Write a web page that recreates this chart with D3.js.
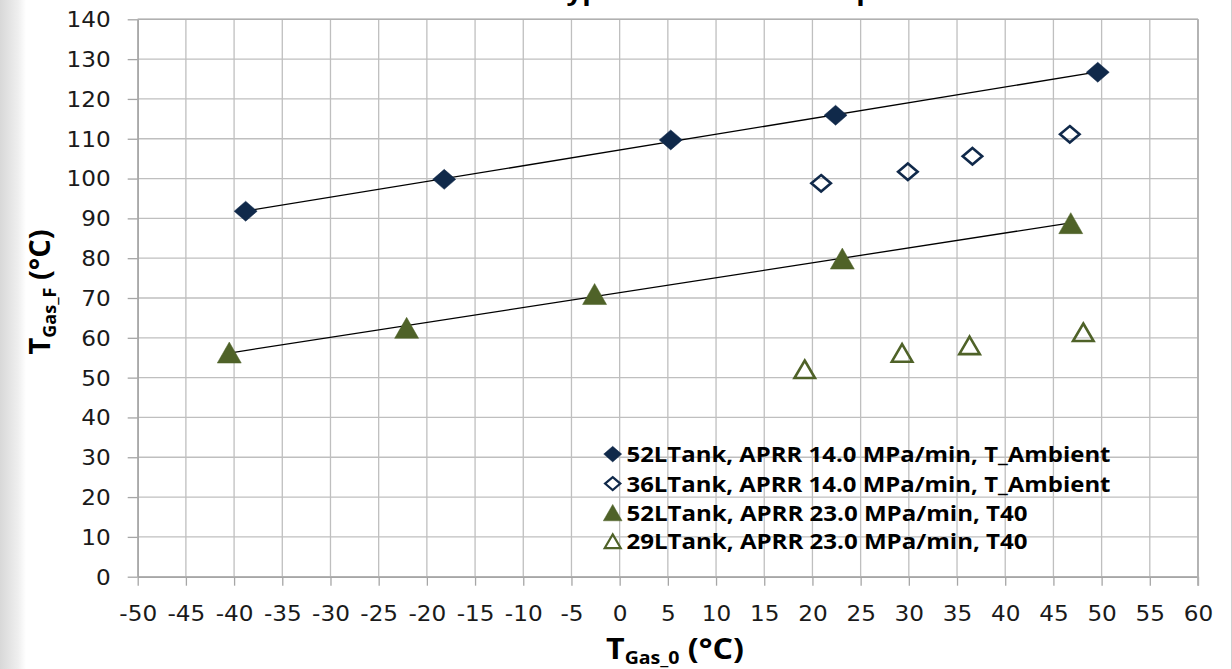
<!DOCTYPE html>
<html>
<head>
<meta charset="utf-8">
<script src="https://cdn.jsdelivr.net/npm/d3@7"></script>
<style>
  body { margin: 0; background: #fff; }
  svg { display: block; }
</style>
</head>
<body>
<div id="chart"></div>
<script>
// T_Gas_0 vs T_Gas_F for the four fill tests

const xTicks = [-50, -45, -40, -35, -30, -25, -20, -15, -10, -5, 0, 5, 10, 15, 20, 25, 30, 35, 40, 45, 50, 55, 60];
const yTicks = [0, 10, 20, 30, 40, 50, 60, 70, 80, 90, 100, 110, 120, 130, 140];

const seriesNames = [
    "52LTank, APRR 14.0 MPa/min, T_Ambient",
    "36LTank, APRR 14.0 MPa/min, T_Ambient",
    "52LTank, APRR 23.0 MPa/min, T40",
    "29LTank, APRR 23.0 MPa/min, T40"
];

// 52L, 14 MPa/min, ambient (filled diamond)
const amb52X = [-38.8, -18.2, 5.3, 22.4, 49.6];
const amb52Y = [91.8, 99.8, 109.7, 115.9, 126.7];
// 36L, 14 MPa/min, ambient (open diamond)
const amb36X = [20.9, 29.9, 36.6, 46.7];
const amb36Y = [98.8, 101.7, 105.6, 111.1];
// 52L, 23 MPa/min, T40 (filled triangle)
const t40_52X = [-40.5, -22.1, -2.6, 23.1, 46.8];
const t40_52Y = [56.3, 62.5, 71.0, 79.9, 88.8];
// 29L, 23 MPa/min, T40 (open triangle)
const t40_29X = [19.2, 29.3, 36.3, 48.1];
const t40_29Y = [52.1, 56.2, 58.1, 61.4];

const navy = "#10294a", olive = "#4f6228";

const width = 1232, height = 669;
const margin = ({ top: 19.3, right: 34, bottom: 92.3, left: 137.7 });

const svg = d3.select("#chart")
    .append("svg")
    .attr("width", width)
    .attr("height", height)
    .style("font-family", "'DejaVu Sans', Verdana, sans-serif");

// grey strip on the left edge, thin line on the right
const grad = svg.append("defs").append("linearGradient").attr("id", "edge");
grad.append("stop").attr("offset", "0%").attr("stop-color", "#d8d8d8");
grad.append("stop").attr("offset", "70%").attr("stop-color", "#efefef");
grad.append("stop").attr("offset", "100%").attr("stop-color", "#ffffff");
svg.append("rect").attr("x", 0).attr("y", 0).attr("width", 26).attr("height", height).attr("fill", "url(#edge)");
svg.append("line").attr("x1", width - 0.5).attr("x2", width - 0.5).attr("y1", 0).attr("y2", height)
    .attr("stroke", "#cfcfcf");

let x = d3.scaleLinear()
    .domain([-50, 60])
    .range([margin.left, width - margin.right]);

let y = d3.scaleLinear()
    .domain([0, 140])
    .range([height - margin.bottom, margin.top]);

// title, cut off at the top so only the descenders show
svg.append("text")
    .attr("transform", `translate(354,0) scale(1.15,1)`)
    .style("font-family", "'Open Sans', sans-serif")
    .style("font-weight", "bold")
    .style("font-size", "24px")
    .attr("fill", "#000")
    .text("Effect of Tank Type on Final Gas Temperature");

// gridlines
svg.append("g")
    .selectAll("line")
    .data(xTicks)
    .join("line")
    .attr("x1", d => x(d)).attr("x2", d => x(d))
    .attr("y1", y(140)).attr("y2", y(0))
    .attr("stroke", "#bfbfbf").attr("stroke-width", 1.3);

svg.append("g")
    .selectAll("line")
    .data(yTicks)
    .join("line")
    .attr("x1", x(-50)).attr("x2", x(60))
    .attr("y1", d => y(d)).attr("y2", d => y(d))
    .attr("stroke", "#bfbfbf").attr("stroke-width", 1.3);

// axes (plain hyphen for negatives, like the original)
let xAxis = svg.append("g")
    .attr("transform", `translate(0,${y(0)})`)
    .call(d3.axisBottom(x).tickValues(xTicks).tickFormat(d => String(d))
        .tickSizeInner(9).tickSizeOuter(0).tickPadding(0));

let yAxis = svg.append("g")
    .attr("transform", `translate(${x(-50)},0)`)
    .call(d3.axisLeft(y).tickValues(yTicks).tickFormat(d => String(d))
        .tickSizeInner(10).tickSizeOuter(0));

[xAxis, yAxis].forEach(a => {
    a.select(".domain").attr("stroke", "#a6a6a6").attr("stroke-width", 1.5);
    a.selectAll(".tick line").attr("stroke", "#a6a6a6").attr("stroke-width", 1.3);
    a.selectAll(".tick text")
        .attr("fill", "#1a1a1a")
        .style("font-family", "'DejaVu Sans', Verdana, sans-serif")
        .style("font-size", "20.5px");
});

xAxis.selectAll(".tick text")
    .attr("y", 44.5)
    .attr("dy", 0)
    .attr("transform", "scale(1.13,1)");

yAxis.selectAll(".tick text")
    .attr("x", -27 / 1.13)
    .attr("dy", "0.36em")
    .attr("transform", "scale(1.13,1)");

// plot border top and right
svg.append("line")
    .attr("x1", x(-50)).attr("x2", x(60)).attr("y1", y(140)).attr("y2", y(140))
    .attr("stroke", "#b0b0b0").attr("stroke-width", 1.5);
svg.append("line")
    .attr("x1", x(60)).attr("x2", x(60)).attr("y1", y(140)).attr("y2", y(0) + 9)
    .attr("stroke", "#b0b0b0").attr("stroke-width", 1.8);

// marker shapes
function diamond(w, h) {
    return `M0,${-h / 2}L${w / 2},0L0,${h / 2}L${-w / 2},0Z`;
}
function triangle(w, h) {
    return `M0,${-h / 2}L${w / 2},${h / 2}L${-w / 2},${h / 2}Z`;
}

const series = [
    { xs: amb52X, ys: amb52Y, shape: "diamond", filled: true, color: navy, trend: true },
    { xs: amb36X, ys: amb36Y, shape: "diamond", filled: false, color: navy, trend: false },
    { xs: t40_52X, ys: t40_52Y, shape: "triangle", filled: true, color: olive, trend: true },
    { xs: t40_29X, ys: t40_29Y, shape: "triangle", filled: false, color: olive, trend: false }
];

function markerPath(s, scale) {
    if (s.shape == "diamond") {
        return s.filled ? diamond(23 * scale, 20 * scale) : diamond(19.5 * scale, 16.5 * scale);
    }
    return s.filled ? triangle(24 * scale, 21 * scale) : triangle(20.5 * scale, 17.5 * scale);
}

// linear trend lines over the range of each filled series
for (let s of series.filter(s => s.trend)) {
    const n = s.xs.length;
    const mx = d3.mean(s.xs), my = d3.mean(s.ys);
    let sxy = 0, sxx = 0;
    for (let i = 0; i < n; i++) {
        sxy += (s.xs[i] - mx) * (s.ys[i] - my);
        sxx += (s.xs[i] - mx) * (s.xs[i] - mx);
    }
    const slope = sxy / sxx, icpt = my - slope * mx;
    const x0 = d3.min(s.xs), x1 = d3.max(s.xs);
    svg.append("line")
        .attr("x1", x(x0)).attr("y1", y(icpt + slope * x0))
        .attr("x2", x(x1)).attr("y2", y(icpt + slope * x1))
        .attr("stroke", "#000").attr("stroke-width", 1.3);
}

for (let s of series) {
    const pts = s.xs.map((v, i) => ({ x: v, y: s.ys[i] }));
    svg.append("g")
        .selectAll("path")
        .data(pts)
        .join("path")
        .attr("transform", d => `translate(${x(d.x)},${y(d.y)})`)
        .attr("d", markerPath(s, 1))
        .attr("fill", s.filled ? s.color : "none")
        .attr("stroke", s.color)
        .attr("stroke-width", s.filled ? 0.5 : 2.6)
        .attr("stroke-linejoin", "miter");
}

// legend
const legendRows = [454.1, 483.6, 512.6, 541.2];
const legendWidths = [484, 484, 401, 401];
let legend = svg.append("g");
series.forEach((s, i) => {
    legend.append("path")
        .attr("transform", `translate(612.7,${legendRows[i]})`)
        .attr("d", markerPath(s, 0.78))
        .attr("fill", s.filled ? s.color : "none")
        .attr("stroke", s.color)
        .attr("stroke-width", s.filled ? 0.5 : 2.2);
    legend.append("text")
        .attr("x", 626.5)
        .attr("y", legendRows[i] + 8.2)
        .attr("textLength", legendWidths[i])
        .attr("lengthAdjust", "spacingAndGlyphs")
        .style("font-family", "'Open Sans', sans-serif")
        .style("font-weight", "bold")
        .style("font-size", "21.5px")
        .attr("fill", "#000")
        .text(seriesNames[i]);
});

// axis titles
let xt = svg.append("text")
    .attr("transform", "translate(606,659) scale(1.15,1)")
    .style("font-family", "'Open Sans', sans-serif")
    .style("font-weight", "bold")
    .attr("fill", "#000");
xt.append("tspan").style("font-size", "28px").text("T");
xt.append("tspan").style("font-size", "17px").attr("dy", 5).text("Gas_0");
xt.append("tspan").style("font-size", "28px").attr("dy", -5).text(" (°C)");

let yt = svg.append("text")
    .attr("transform", "translate(50,292) rotate(-90)")
    .attr("text-anchor", "middle")
    .style("font-family", "'Open Sans', sans-serif")
    .style("font-weight", "bold")
    .attr("fill", "#000");
yt.append("tspan").style("font-size", "29px").text("T");
yt.append("tspan").style("font-size", "18px").attr("dy", 6).text("Gas_F");
yt.append("tspan").style("font-size", "29px").attr("dy", -6).text(" (°C)");
</script>
</body>
</html>
